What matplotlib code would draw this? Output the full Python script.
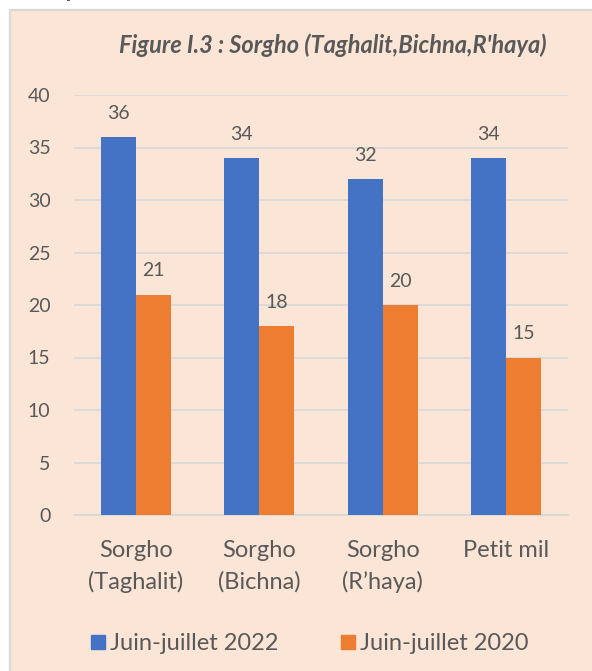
import matplotlib.pyplot as plt
import numpy as np
from matplotlib.patches import Rectangle
from matplotlib.lines import Line2D

categories = ["Sorgho\n(Taghalit)", "Sorgho\n(Bichna)", "Sorgho\n(R\u2019haya)", "Petit mil"]
values_2022 = [36, 34, 32, 34]
values_2020 = [21, 18, 20, 15]
series_names = ["Juin-juillet 2022", "Juin-juillet 2020"]

blue = "#4472C4"
orange = "#ED7D31"
text_col = "#595959"
grid_col = "#D9D9D9"
bg = "#FBE5D6"

plt.rcParams['font.family'] = ['Lato', 'DejaVu Sans']

fig = plt.figure(figsize=(5.92, 6.71), dpi=100)
fig.patch.set_facecolor("white")

# chart area box (peach background, gray border on left/top)
fig.patches.append(Rectangle((9.5 / 592, -0.1), 1.2, 1 - 9.5 / 671 + 0.1,
                             transform=fig.transFigure, facecolor=bg,
                             edgecolor=grid_col, linewidth=1.6, zorder=-5))

# cut-off text above the box
fig.text(66 / 592, 1 + 3 / 671, "petit mil :", fontsize=17, fontweight="bold",
         style="italic", color="#44546A", va="baseline", ha="left")

ax = fig.add_axes([74 / 592, 1 - 515 / 671, 494 / 592, 420 / 671])
ax.set_facecolor("none")
ax.set_zorder(2)

x = np.arange(len(categories))
w = 0.283
b1 = ax.bar(x - w / 2, values_2022, w, color=blue, zorder=3)
b2 = ax.bar(x + w / 2, values_2020, w, color=orange, zorder=3)
ax.bar_label(b1, padding=11, fontsize=14, color=text_col)
ax.bar_label(b2, padding=11, fontsize=14, color=text_col)

ax.set_xlim(-0.5, len(categories) - 0.5)
ax.set_ylim(0, 40)
ax.set_yticks(range(0, 41, 5))
ax.yaxis.grid(True, color=grid_col, linewidth=1.3, zorder=0)
ax.set_axisbelow(True)

for s in ["top", "right", "left"]:
    ax.spines[s].set_visible(False)
ax.spines["bottom"].set_color(grid_col)
ax.spines["bottom"].set_linewidth(1.3)

ax.set_xticks(x)
ax.set_xticklabels(categories, fontsize=17, color=text_col, linespacing=1.55)
ax.tick_params(axis="x", length=0, pad=18)
ax.tick_params(axis="y", length=0, pad=17, labelsize=14, labelcolor=text_col)

fig.text(333 / 592, 1 - 45 / 671, "Figure I.3 : Sorgho (Taghalit,Bichna,R'haya)",
         fontsize=17, fontweight="bold", style="italic", color=text_col,
         ha="center", va="center")

handles = [Line2D([], [], marker="s", linestyle="none", markersize=10,
                  markerfacecolor=c, markeredgecolor=c) for c in (blue, orange)]
fig.legend(handles, series_names, loc="center", bbox_to_anchor=(309 / 592, 1 - 644 / 671),
           ncol=2, frameon=False, fontsize=17, labelcolor=text_col,
           handletextpad=0.15, columnspacing=2.6, handlelength=0.7)

fig.savefig("out.png", dpi=100)
